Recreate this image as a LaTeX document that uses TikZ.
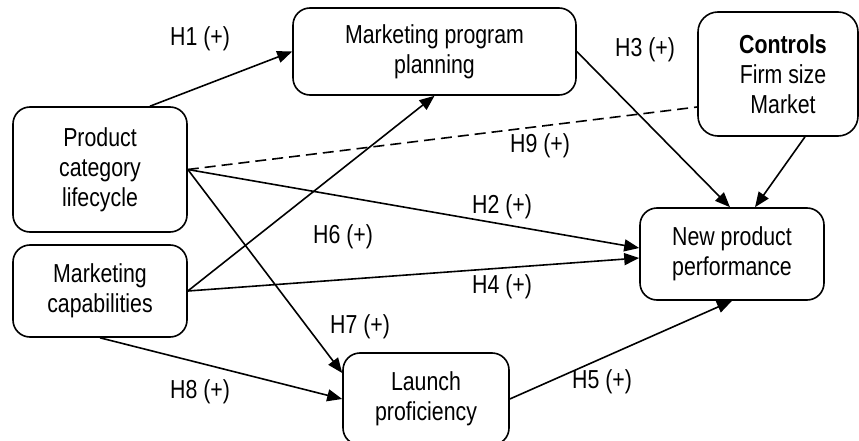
\documentclass[tikz,border=0pt]{standalone}
\usepackage{fontspec}
\setmainfont{Liberation Sans}[FakeStretch=0.82]
\usetikzlibrary{arrows.meta}

\begin{document}
\begin{tikzpicture}[x=1pt,y=-1pt,
  box/.style={draw, line width=1.6pt, rounded corners=17pt, align=center,
    inner sep=0pt, font=\fontsize{26}{30}\selectfont},
  boxtext/.style={align=center, inner sep=0pt, font=\fontsize{26}{30}\selectfont},
  lbl/.style={anchor=base west, inner sep=0pt, font=\fontsize{26}{30}\selectfont},
  link/.style={line width=1.6pt, -{Triangle[length=15pt,width=12pt]}},
  ctrlline/.style={line width=1.6pt, dash pattern=on 11pt off 6pt},
]
\useasboundingbox (0,0) rectangle (859,441);

% constructs
\node[box, minimum width=174pt, minimum height=125pt] (pcl) at (100,169.5)
  {Product\\category\\lifecycle};
\node[box, minimum width=174pt, minimum height=92pt] (mc) at (100,291)
  {Marketing\\capabilities};
\node[box, minimum width=283pt, minimum height=87pt] (mpp) at (434.5,51.5)
  {Marketing program\\planning};
\node[box, minimum width=160pt, minimum height=124pt, rounded corners=20pt] (ctrl) at (778,74) {};
\node[boxtext] (ctrltext) at ([xshift=5pt]ctrl.center)
  {\textbf{Controls}\\Firm size\\Market};
\node[box, minimum width=184pt, minimum height=92pt] (npp) at (732,254)
  {New product\\performance};
\node[box, minimum width=166pt, minimum height=92pt] (lp) at (426,399)
  {Launch\\proficiency};

% hypothesised paths
\draw[link] ([xshift=50pt]pcl.north) -- (mpp.west);
\draw[link] (mc.east) -- (mpp.south);
\draw[link] (mpp.east) -- ([xshift=-2pt]npp.north);
\draw[link] ([xshift=27pt]ctrl.south) -- ([xshift=23pt]npp.north);
\draw[ctrlline] (pcl.east) -- ([yshift=-33pt]ctrl.west);
\draw[link] (pcl.east) -- ([yshift=6pt]npp.west);
\draw[link] (mc.east) -- ([yshift=-4pt]npp.west);
\draw[link] (pcl.east) -- ([yshift=26pt]lp.west);
\draw[link] (mc.south) -- (lp.west);
\draw[link] (lp.east) -- (npp.south);

% hypothesis labels
\node[lbl] (h1) at (170,46) {H1 (+)};
\node[lbl] (h3) at (615,57) {H3 (+)};
\node[lbl] (h9) at (510,153) {H9 (+)};
\node[lbl] (h2) at (472,213.5) {H2 (+)};
\node[lbl] (h6) at (313,243) {H6 (+)};
\node[lbl] (h4) at (472,293) {H4 (+)};
\node[lbl] (h7) at (330,333) {H7 (+)};
\node[lbl] (h8) at (170,398) {H8 (+)};
\node[lbl] (h5) at (572,388) {H5 (+)};
\end{tikzpicture}
\end{document}
